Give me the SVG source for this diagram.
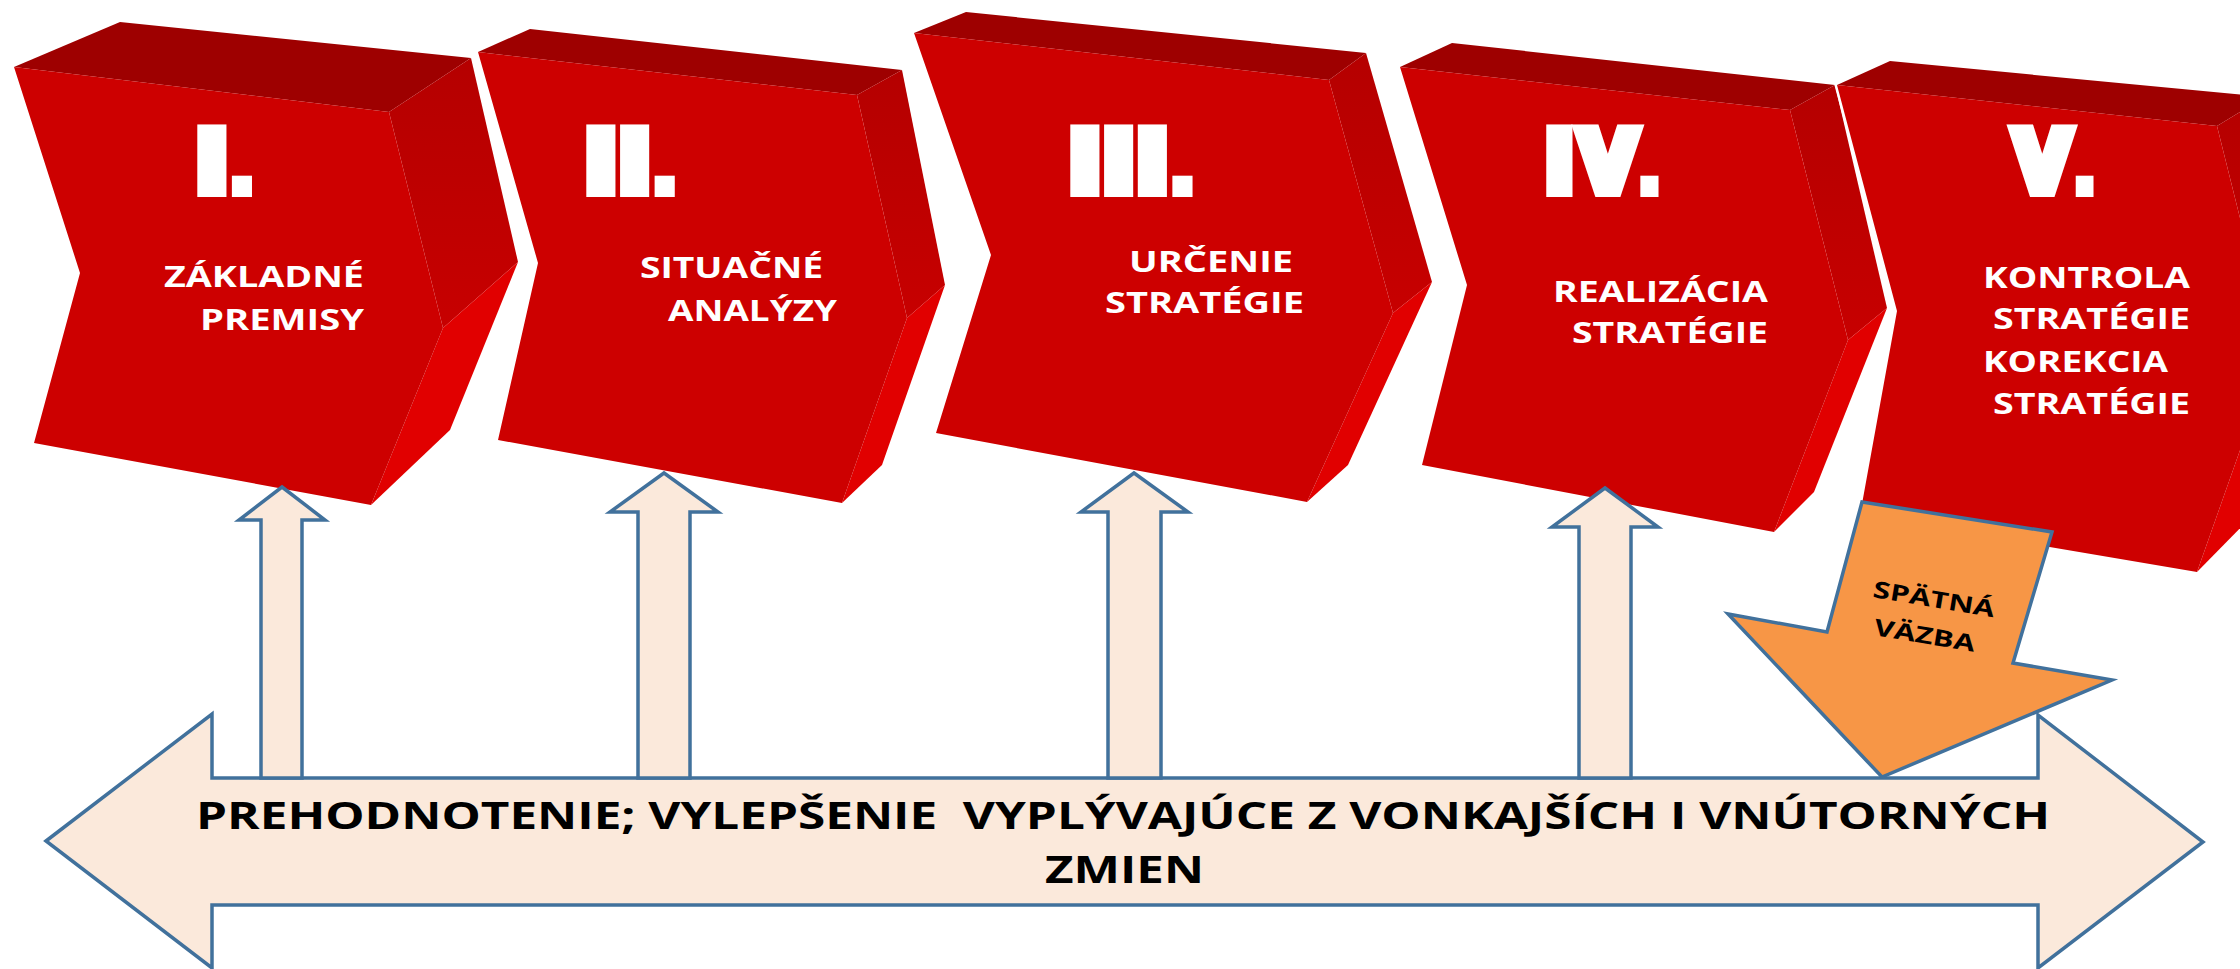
<svg xmlns="http://www.w3.org/2000/svg" width="2240" height="969" viewBox="0 0 2240 969">
<defs>
<linearGradient id="sideGrad" x1="0" y1="0" x2="0" y2="1">
<stop offset="0" stop-color="#B50000"/>
<stop offset="1" stop-color="#C70000"/>
</linearGradient>
</defs>
<style>
.sil{fill:#fff;stroke:#fff;stroke-width:5;stroke-linejoin:round}
.top{fill:#9E0000}
.front{fill:#CD0000}
.side{fill:url(#sideGrad)}
.side2{fill:#E10000}
.num{font-family:"DejaVu Sans",sans-serif;font-weight:bold;font-size:80px;letter-spacing:4px;fill:#fff;stroke:#fff;stroke-width:14;stroke-linejoin:miter}
.p{stroke-width:6}
.lbl{font-family:"Open Sans","Liberation Sans",sans-serif;font-weight:bold;font-size:29px;fill:#fff}
.up{fill:#FBE9DB;stroke:#41719C;stroke-width:3.5;stroke-linejoin:miter}
.btxt{font-family:"Open Sans","Liberation Sans",sans-serif;font-weight:bold;font-size:38px;fill:#000}
.fb{fill:#F79646;stroke:#41719C;stroke-width:3.5;stroke-linejoin:miter}
.fbt{font-family:"Open Sans","Liberation Sans",sans-serif;font-weight:bold;font-size:23px;fill:#000}
</style>
<rect width="2240" height="969" fill="#fff"/>

<g id="step1">
<polygon class="sil" points="14,67 120,22 471,58 518,262 450,430 371,505 34,443 80,273"/>
<polygon class="top" points="14,67 120,22 471,58 389,112"/>
<polygon class="side" points="389,112 471,58 518,262 443,328"/>
<polygon class="side2" points="443,328 518,262 450,430 371,505"/>
<polygon class="front" points="14,67 389,112 443,328 371,505 34,443 80,273"/>
<text class="num" x="197" y="190">I<tspan class="p" dx="-4" dy="4">.</tspan></text>
<text class="lbl" x="164" y="287" textLength="200" lengthAdjust="spacingAndGlyphs">ZÁKLADNÉ</text>
<text class="lbl" x="200" y="330" textLength="164" lengthAdjust="spacingAndGlyphs">PREMISY</text>
</g>

<g id="step2">
<polygon class="sil" points="478,52 530,29 902,70 945,285 882,465 842,503 498,440 538,263"/>
<polygon class="top" points="478,52 530,29 902,70 857,95"/>
<polygon class="side" points="857,95 902,70 945,285 907,318"/>
<polygon class="side2" points="907,318 945,285 882,465 842,503"/>
<polygon class="front" points="478,52 857,95 907,318 842,503 498,440 538,263"/>
<text class="num" x="586" y="190">II<tspan class="p" dx="-4" dy="4">.</tspan></text>
<text class="lbl" x="640" y="278" textLength="183" lengthAdjust="spacingAndGlyphs">SITUAČNÉ</text>
<text class="lbl" x="668" y="321" textLength="169" lengthAdjust="spacingAndGlyphs">ANALÝZY</text>
</g>

<g id="step3">
<polygon class="sil" points="914,33 966,12 1366,53 1432,282 1348,465 1307,502 936,433 991,255"/>
<polygon class="top" points="914,33 966,12 1366,53 1329,80"/>
<polygon class="side" points="1329,80 1366,53 1432,282 1393,313"/>
<polygon class="side2" points="1393,313 1432,282 1348,465 1307,502"/>
<polygon class="front" points="914,33 1329,80 1393,313 1307,502 936,433 991,255"/>
<text class="num" x="1070" y="190">III<tspan class="p" dx="-4" dy="4">.</tspan></text>
<text class="lbl" x="1129" y="272" textLength="164" lengthAdjust="spacingAndGlyphs">URČENIE</text>
<text class="lbl" x="1105" y="313" textLength="199" lengthAdjust="spacingAndGlyphs">STRATÉGIE</text>
</g>

<g id="step4">
<polygon class="sil" points="1400,67 1452,43 1835,85 1887,308 1814,492 1774,532 1422,465 1467,285"/>
<polygon class="top" points="1400,67 1452,43 1835,85 1790,110"/>
<polygon class="side" points="1790,110 1835,85 1887,308 1848,340"/>
<polygon class="side2" points="1848,340 1887,308 1814,492 1774,532"/>
<polygon class="front" points="1400,67 1790,110 1848,340 1774,532 1422,465 1467,285"/>
<text class="num" transform="translate(1546,190) scale(0.9,1)">I<tspan dx="4">V</tspan><tspan class="p" dx="-4" dy="4">.</tspan></text>
<text class="lbl" x="1553" y="302" textLength="215" lengthAdjust="spacingAndGlyphs">REALIZÁCIA</text>
<text class="lbl" x="1572" y="343" textLength="196" lengthAdjust="spacingAndGlyphs">STRATÉGIE</text>
</g>

<g id="step5">
<polygon class="sil" points="1837,85 1890,61 2265,97 2320,330 2250,518 2197,572 1860,515 1897,311"/>
<polygon class="top" points="1837,85 1890,61 2265,97 2217,126"/>
<polygon class="side" points="2217,126 2265,97 2320,330 2274,354"/>
<polygon class="side2" points="2274,354 2320,330 2250,518 2197,572"/>
<polygon class="front" points="1837,85 2217,126 2274,354 2197,572 1860,515 1897,311"/>
<text class="num" transform="translate(2015,190) scale(0.88,1)">V<tspan class="p" dx="-2" dy="4">.</tspan></text>
<text class="lbl" x="1983" y="288" textLength="207" lengthAdjust="spacingAndGlyphs">KONTROLA</text>
<text class="lbl" x="1993" y="329" textLength="197" lengthAdjust="spacingAndGlyphs">STRATÉGIE</text>
<text class="lbl" x="1983" y="372" textLength="185" lengthAdjust="spacingAndGlyphs">KOREKCIA</text>
<text class="lbl" x="1993" y="414" textLength="197" lengthAdjust="spacingAndGlyphs">STRATÉGIE</text>
</g>

<g id="base">
<polygon class="up" points="46,841 212,714 212,778 2038,778 2038,715 2203,842 2038,968 2038,905 212,905 212,968"/>
<text class="btxt" x="196" y="829" textLength="1854" lengthAdjust="spacingAndGlyphs" xml:space="preserve">PREHODNOTENIE; VYLEPŠENIE  VYPLÝVAJÚCE Z VONKAJŠÍCH I VNÚTORNÝCH</text>
<text class="btxt" x="1045" y="883" textLength="159" lengthAdjust="spacingAndGlyphs">ZMIEN</text>
</g>

<g id="connectors">
<polygon class="up" points="282,487 325,520 302,520 302,778 261,778 261,520 239,520"/>
<polygon class="up" points="664,473 718,512 690,512 690,778 638,778 638,512 610,512"/>
<polygon class="up" points="1134,473 1188,512 1161,512 1161,778 1108,778 1108,512 1081,512"/>
<polygon class="up" points="1605,488 1658,527 1631,527 1631,778 1579,778 1579,527 1552,527"/>
</g>

<g id="feedback">
<polygon class="fb" points="1862,502 2052,532 2013,663 2112,680 1882,777 1728,614 1827,632"/>
<text class="fbt" transform="translate(1872,597) rotate(9.5)" textLength="123" lengthAdjust="spacingAndGlyphs">SPÄTNÁ</text>
<text class="fbt" transform="translate(1873,635) rotate(9.5)" textLength="102" lengthAdjust="spacingAndGlyphs">VÄZBA</text>
</g>
</svg>
